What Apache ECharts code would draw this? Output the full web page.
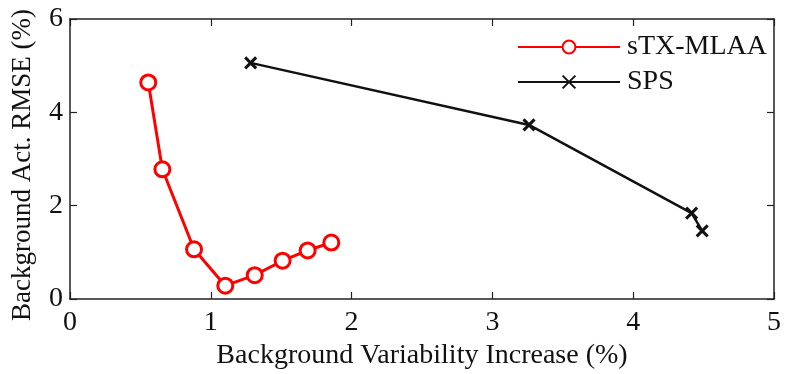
<!DOCTYPE html>
<html>
<head>
<meta charset="utf-8">
<script src="https://cdn.jsdelivr.net/npm/echarts@6/dist/echarts.min.js"></script>
<style>
  html, body { margin: 0; padding: 0; background: #fff; }
  #chart { width: 785px; height: 374px; }
</style>
</head>
<body>
<div id="chart"></div>
<script>
// values
const stxX = [0.556, 0.656, 0.881, 1.103, 1.312, 1.51, 1.688, 1.856]
const stxY = [4.64, 2.78, 1.065, 0.285, 0.51, 0.82, 1.04, 1.21]
const spsX = [1.283, 3.26, 4.415, 4.49]
const spsY = [5.06, 3.73, 1.84, 1.46]

const font = '"Liberation Serif", "DejaVu Serif", serif'
const zip = (xs, ys) => xs.map((x, i) => [x, ys[i]])

const chart = echarts.init(document.getElementById('chart'), null, { renderer: 'canvas' })

const axisCommon = {
  axisLine: { show: true, onZero: false, lineStyle: { color: '#222', width: 1.5 } },
  axisTick: { show: true, inside: true, length: 7, lineStyle: { color: '#222', width: 1.2 } },
  splitLine: { show: false },
}

chart.setOption({
  animation: false,
  backgroundColor: '#fff',
  grid: { left: 70, right: 11, top: 19, bottom: 75, containLabel: false, outerBoundsMode: 'none' },
  legend: {
    left: 512,
    top: 28,
    orient: 'vertical',
    itemGap: 7,
    itemWidth: 102,
    itemHeight: 16,
    textStyle: { fontFamily: font, fontSize: 28, color: '#111', padding: [0, 0, 0, 2] },
    data: ['sTX-MLAA', 'SPS'],
  },
  xAxis: [
    {
      type: 'value', min: 0, max: 5, interval: 1,
      ...axisCommon,
      axisLabel: { fontFamily: font, fontSize: 28, color: '#111', margin: 10 },
      name: 'Background Variability Increase (%)',
      nameLocation: 'middle',
      nameGap: 40,
      nameTextStyle: { fontFamily: font, fontSize: 28, color: '#111' },
    },
    {
      type: 'value', min: 0, max: 5, interval: 1, position: 'top',
      ...axisCommon,
      axisLabel: { show: false },
    },
  ],
  yAxis: [
    {
      type: 'value', min: 0, max: 6, interval: 2,
      ...axisCommon,
      axisLabel: { fontFamily: font, fontSize: 28, color: '#111', margin: 7 },
      name: 'Background Act. RMSE (%)',
      nameLocation: 'middle',
      nameGap: 34,
      nameTextStyle: { fontFamily: font, fontSize: 27, color: '#111', padding: [0, 12, 0, 0] },
    },
    {
      type: 'value', min: 0, max: 6, interval: 2, position: 'right',
      ...axisCommon,
      axisLabel: { show: false },
    },
  ],
  series: [
    {
      name: 'sTX-MLAA',
      type: 'line',
      data: zip(stxX, stxY),
      symbol: 'circle',
      symbolSize: 15,
      lineStyle: { color: '#ff0000', width: 3 },
      itemStyle: { color: '#fff', borderColor: '#ff0000', borderWidth: 3 },
      z: 3,
    },
    {
      name: 'SPS',
      type: 'line',
      data: zip(spsX, spsY),
      symbol: 'path://M0,0L10,10M10,0L0,10',
      symbolSize: 11,
      lineStyle: { color: '#111', width: 2.5 },
      itemStyle: { color: '#111', borderColor: '#111', borderWidth: 3 },
      z: 2,
    },
  ],
})
</script>
</body>
</html>
